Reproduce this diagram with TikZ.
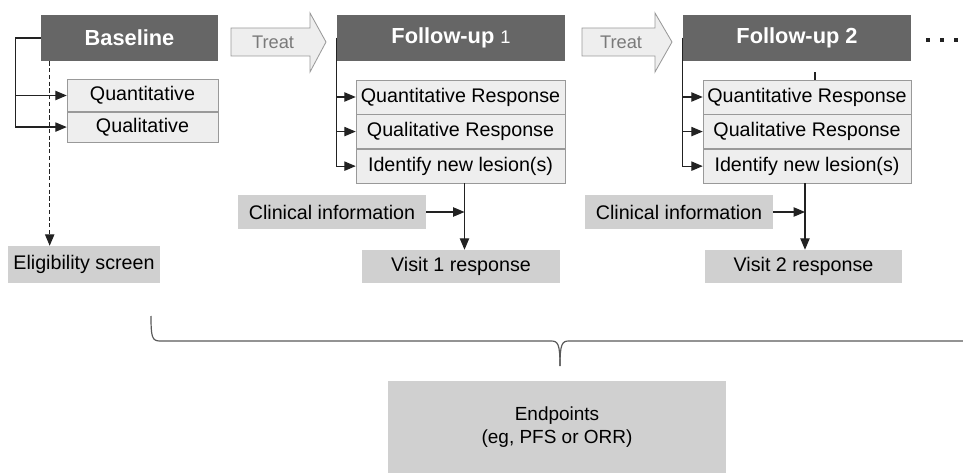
\documentclass[tikz,border=0pt]{standalone}
\usepackage{fontspec}
\setmainfont{Liberation Sans}
\usetikzlibrary{positioning, calc, arrows}
\tikzset{>=triangle 45}
\definecolor{headgray}{HTML}{666666}
\definecolor{boxgray}{HTML}{D0D0D0}
\definecolor{palegray}{HTML}{EEEEEE}
\definecolor{edgegray}{HTML}{999999}
\definecolor{linegray}{HTML}{222222}
\definecolor{treattext}{HTML}{7A7A7A}

\begin{document}
\begin{tikzpicture}
    [x=0.025cm, y=-0.025cm, node distance=0pt,
      head/.style={fill=headgray, text=white, font=\fontsize{15.5}{18}\selectfont\bfseries,
        minimum width=5.7cm, minimum height=1.15cm, inner sep=0pt},
      meas/.style={draw=edgegray, fill=palegray, font=\fontsize{14}{16}\selectfont,
        minimum height=0.85cm, inner sep=0pt},
      info/.style={fill=boxgray, font=\fontsize{14}{16}\selectfont,
        minimum height=0.85cm, inner sep=0pt},
      treat/.style={draw=edgegray, fill=palegray, line width=0.6pt},
      link/.style={draw=linegray, line width=0.85pt}]

    \useasboundingbox (0,0) rectangle (963,473);

    % visits
    \node[head, minimum width=4.425cm] (baseline) at (129.5,38) {Baseline};
    \node[head] (follow-1) at (451,38) {Follow-up {\mdseries\fontsize{13}{14}\selectfont 1}};
    \node[head] (follow-2) at (797,38) {Follow-up 2};

    \draw[treat] (231,28) -- (310,28) -- (310,13) -- (326,42) -- (310,72) -- (310,56) -- (231,56) -- cycle;
    \node[text=treattext, font=\fontsize{13}{15}\selectfont] (treat-1) at (273,42) {Treat};
    \draw[treat] (582,28) -- (655,28) -- (655,13) -- (672,42) -- (655,72) -- (655,56) -- (582,56) -- cycle;
    \node[text=treattext, font=\fontsize{13}{15}\selectfont] (treat-2) at (621,42) {Treat};

    \foreach \d in {928,942,956}
      \fill[linegray] (\d-2,38) rectangle (\d+2,42);

    % assessments
    \node[meas, minimum width=3.775cm, minimum height=0.8cm] (quant-0) at (142.5,95.5) {Quantitative};
    \node[meas, minimum width=3.775cm, minimum height=0.75cm, below=of quant-0] (qual-0) {Qualitative};

    \node[meas, minimum width=5.225cm] (quant-1) at (460.5,97) {Quantitative Response};
    \node[meas, minimum width=5.225cm, below=of quant-1] (qual-1) {Qualitative Response};
    \node[meas, minimum width=5.225cm, below=of qual-1] (lesion-1) {Identify new lesion(s)};

    \node[meas, minimum width=5.2cm] (quant-2) at (807,97) {Quantitative Response};
    \node[meas, minimum width=5.2cm, below=of quant-2] (qual-2) {Qualitative Response};
    \node[meas, minimum width=5.2cm, below=of qual-2] (lesion-2) {Identify new lesion(s)};

    % results
    \node[info, minimum width=3.8cm, minimum height=0.925cm] (elig) at (84,264.5) {Eligibility screen};
    \node[info, minimum width=4.7cm] (clin-1) at (332,212) {Clinical information};
    \node[info, minimum width=4.95cm, minimum height=0.825cm] (visit-1) at (461,266.5) {Visit 1 response};
    \node[info, minimum width=4.7cm] (clin-2) at (679,212) {Clinical information};
    \node[info, minimum width=4.925cm, minimum height=0.825cm] (visit-2) at (803.5,266.5) {Visit 2 response};
    \node[info, minimum width=8.45cm, minimum height=2.3cm, align=center,
      font=\fontsize{13.5}{16}\selectfont] (endpoints) at (557,427) {Endpoints\\(eg, PFS or ORR)};

    % connectors
    \draw[link, ->] (baseline.west) -- ++(-25,0) |- (quant-0.west);
    \draw[link, ->] (baseline.west) -- ++(-25,0) |- (qual-0.west);
    \coordinate (elig-top) at ($(baseline.south west)+(9,0)$);
    \draw[link, ->, dash pattern=on 3pt off 1.8pt] (elig-top) -- (elig-top |- elig.north);

    \draw[link, ->] (follow-1.west) |- (quant-1.west);
    \draw[link, ->] (follow-1.west) |- (qual-1.west);
    \draw[link, ->] (follow-1.west) |- (lesion-1.west);
    \coordinate (join-1) at ($(lesion-1.south)+(4,0)$);
    \draw[link, ->] (join-1) -- (join-1 |- visit-1.north);
    \draw[link, ->] (clin-1.east) -- (clin-1.east -| join-1);

    \draw[link, ->] (follow-2.west) |- (quant-2.west);
    \draw[link, ->] (follow-2.west) |- (qual-2.west);
    \draw[link, ->] (follow-2.west) |- (lesion-2.west);
    \draw[link] ($(quant-2.north)+(8,0)$) -- ++(0,-8);
    \coordinate (join-2) at ($(lesion-2.south)+(-2,0)$);
    \draw[link, ->] (join-2) -- (join-2 |- visit-2.north);
    \draw[link, ->] (clin-2.east) -- (clin-2.east -| join-2);

    % brace over all visits
    \draw[draw=black!65, line width=0.85pt] (151,316) .. controls (151,337) and (152,341) .. (160,341)
      -- (551,341) .. controls (558,341) and (560,344) .. (560,366);
    \draw[draw=black!65, line width=0.85pt] (560,366) .. controls (560,344) and (562,341) .. (569,341)
      -- (963,341);
  \end{tikzpicture}
\end{document}
